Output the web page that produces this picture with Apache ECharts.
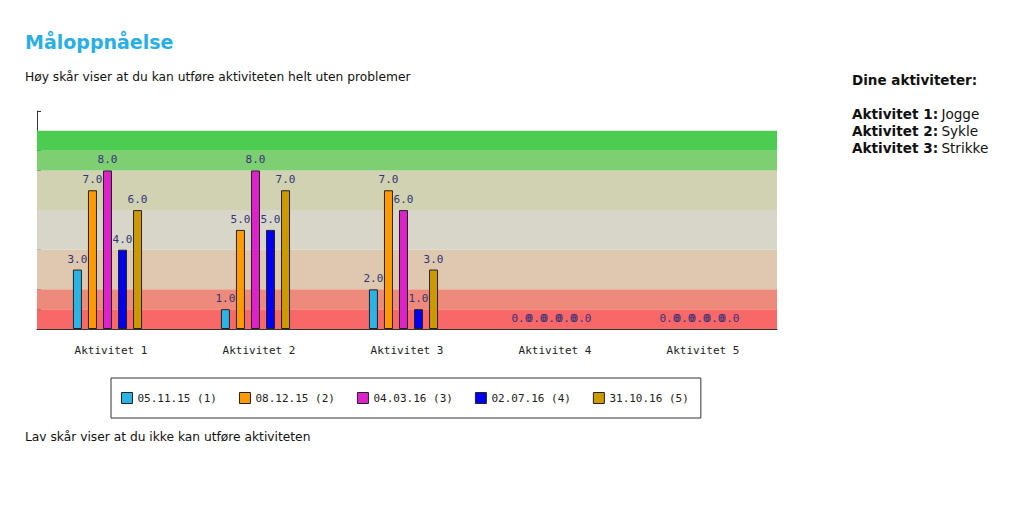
<!DOCTYPE html>
<html><head><meta charset="utf-8">
<script src="https://cdn.jsdelivr.net/npm/echarts@6/dist/echarts.min.js"></script>
<style>html,body{margin:0;padding:0;background:#fff}#c{width:1023px;height:509px}</style>
</head><body><div id="c"></div>
<script>
const categories = ['Aktivitet 1','Aktivitet 2','Aktivitet 3','Aktivitet 4','Aktivitet 5'];
const seriesNames = ['05.11.15 (1)','08.12.15 (2)','04.03.16 (3)','02.07.16 (4)','31.10.16 (5)'];
const s1 = [3, 1, 2, 0, 0];
const s2 = [7, 5, 7, 0, 0];
const s3 = [8, 8, 6, 0, 0];
const s4 = [4, 5, 1, 0, 0];
const s5 = [6, 7, 3, 0, 0];
const seriesValues = [s1, s2, s3, s4, s5];
const seriesColors = ['#2ab4e6','#ff9a00','#dd22cc','#0000ee','#cc9900'];
const bandEdges = [0, 1, 2, 4, 6, 8, 9, 10];
const bandColors = ['#f86868','#ee8a7c','#dec8b0','#d8d6c8','#d0d2b2','#7ecf72','#4ccc50'];
const activities = [['Aktivitet 1:','Jogge'],['Aktivitet 2:','Sykle'],['Aktivitet 3:','Strikke']];

const mono = '"DejaVu Sans Mono", monospace';
const sans = '"DejaVu Sans", sans-serif';

const chart = echarts.init(document.getElementById('c'), null, {renderer:'svg'});

const bandData = bandColors.map((c, i) => [
  {yAxis: bandEdges[i], itemStyle:{color:c}},
  {yAxis: bandEdges[i+1]}
]);

const barSeries = seriesValues.map((vals, i) => ({
  name: seriesNames[i], type:'bar', z: 3,
  data: vals.map(v => v === 0 ? {value:v, itemStyle:{borderWidth:0}} : v),
  barWidth: 9, barGap: '67%',
  itemStyle:{color: seriesColors[i], borderColor:'#222', borderWidth:1},
  label:{show:true, position:'top', distance:5, formatter: p => p.value.toFixed(1),
    color:'#333377', fontFamily: mono, fontSize:11},
  emphasis:{disabled:true}
}));

const graphics = [
  {type:'text', left:25, top:32, style:{text:'Måloppnåelse', font:'bold 19px '+sans, fill:'#29aee6'}},
  {type:'text', left:25, top:71, style:{text:'Høy skår viser at du kan utføre aktiviteten helt uten problemer', font:'12.25px '+sans, fill:'#111'}},
  {type:'text', left:25, top:431, style:{text:'Lav skår viser at du ikke kan utføre aktiviteten', font:'12.25px '+sans, fill:'#111'}},
  {type:'text', left:852, top:73, style:{text:'Dine aktiviteter:', font:'bold 13.5px '+sans, fill:'#111'}}
];
activities.forEach((a, i) => {
  graphics.push({type:'text', left:852, top:107 + i*17, style:{
    rich:{b:{font:'bold 13.6px '+sans, fill:'#111'}, n:{font:'13.6px '+sans, fill:'#111'}},
    text:'{b|'+a[0]+'} {n|'+a[1]+'}'
  }});
});

chart.setOption({
  animation:false,
  graphic: graphics,
  grid:{left:37, right:246, top:111, bottom:180},
  legend:{
    data: seriesNames, left:111, top:378, width:575,
    padding:[14,12,14,10], itemGap:22, itemWidth:11, itemHeight:11,
    borderColor:'#333', borderWidth:1, icon:'rect',
    itemStyle:{borderColor:'#222', borderWidth:1},
    textStyle:{fontFamily:mono, fontSize:11, color:'#222'}
  },
  xAxis:{type:'category', data:categories,
    axisLine:{lineStyle:{color:'#333'}},
    axisTick:{inside:true, length:5, lineStyle:{color:'#333'}},
    axisLabel:{fontFamily:mono, fontSize:11, color:'#222', margin:16}},
  yAxis:{type:'value', min:0, max:11, interval:1,
    axisLine:{show:true, lineStyle:{color:'#333'}},
    axisTick:{show:true, inside:true, length:4, lineStyle:{color:'#333'}},
    axisLabel:{show:false}, splitLine:{show:false}},
  series:[{type:'line', data:[], z:1, silent:true,
    markArea:{silent:true, data: bandData}}]
    .concat(barSeries)
    .concat([{type:'bar', data:[], barWidth:1, barGap:'67%', silent:true}])
});
</script></body></html>
